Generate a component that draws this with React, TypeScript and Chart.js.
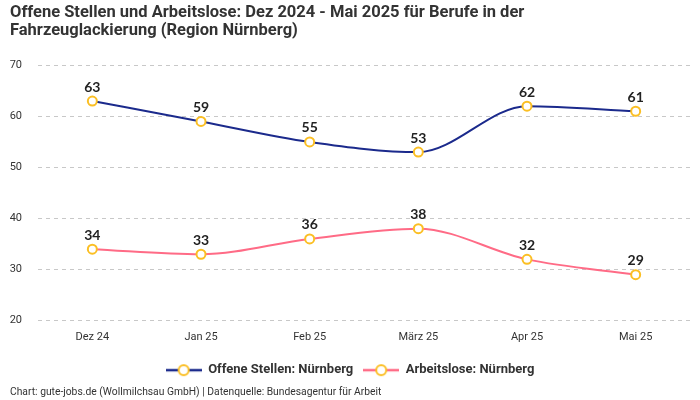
import React, { useEffect, useRef } from "react";
import { Chart, registerables } from "chart.js";

Chart.register(...registerables);

const categories = ["Dez 24", "Jan 25", "Feb 25", "März 25", "Apr 25", "Mai 25"];
const offeneStellen = [63, 59, 55, 53, 62, 61];
const arbeitslose = [34, 33, 36, 38, 32, 29];
const seriesNames = ["Offene Stellen: Nürnberg", "Arbeitslose: Nürnberg"];
const titleLines = [
  "Offene Stellen und Arbeitslose: Dez 2024 - Mai 2025 für Berufe in der",
  "Fahrzeuglackierung (Region Nürnberg)",
];
const footerText = "Chart: gute-jobs.de (Wollmilchsau GmbH) | Datenquelle: Bundesagentur für Arbeit";
const yTickMin = 20;
const yTickMax = 70;
const yTickStep = 10;

const BLUE = "#1b2a8c";
const PINK = "#ff6b86";
const YELLOW = "#fbbf24";

function legendImage(color: string): HTMLCanvasElement {
  const c = document.createElement("canvas");
  c.width = 36;
  c.height = 14;
  const ctx = c.getContext("2d")!;
  ctx.strokeStyle = color;
  ctx.lineWidth = 2.5;
  ctx.beginPath();
  ctx.moveTo(0, 7);
  ctx.lineTo(36, 7);
  ctx.stroke();
  ctx.beginPath();
  ctx.arc(18, 7, 5, 0, Math.PI * 2);
  ctx.fillStyle = "#ffffff";
  ctx.fill();
  ctx.strokeStyle = YELLOW;
  ctx.lineWidth = 2;
  ctx.stroke();
  return c;
}

const valueLabels = {
  id: "valueLabels",
  afterDatasetsDraw(chart: any) {
    const ctx = chart.ctx;
    ctx.save();
    ctx.font = "bold 14px Lato";
    ctx.fillStyle = "#222222";
    ctx.textAlign = "center";
    ctx.textBaseline = "middle";
    chart.data.datasets.forEach((ds: any, i: number) => {
      const meta = chart.getDatasetMeta(i);
      meta.data.forEach((pt: any, j: number) => {
        ctx.fillText(String(ds.data[j]), pt.x, pt.y - 14);
      });
    });
    ctx.restore();
  },
};

export default function App() {
  const ref = useRef<HTMLCanvasElement>(null);
  useEffect(() => {
    document.body.style.margin = "0";
    const imgs = [legendImage(BLUE), legendImage(PINK)];
    const chart = new Chart(ref.current!, {
      type: "line",
      data: {
        labels: categories,
        datasets: [
          {
            label: seriesNames[0],
            data: offeneStellen,
            borderColor: BLUE,
            backgroundColor: BLUE,
            borderWidth: 2,
            cubicInterpolationMode: "monotone",
            pointRadius: 4.5,
            pointBorderWidth: 2,
            pointBorderColor: YELLOW,
            pointBackgroundColor: "#ffffff",
          },
          {
            label: seriesNames[1],
            data: arbeitslose,
            borderColor: PINK,
            backgroundColor: PINK,
            borderWidth: 2,
            cubicInterpolationMode: "monotone",
            pointRadius: 4.5,
            pointBorderWidth: 2,
            pointBorderColor: YELLOW,
            pointBackgroundColor: "#ffffff",
          },
        ],
      },
      options: {
        animation: false,
        responsive: true,
        maintainAspectRatio: false,
        layout: { padding: { left: 10, right: 10, top: 2, bottom: 0 } },
        scales: {
          x: {
            offset: true,
            grid: { display: false },
            border: { display: false },
            ticks: { color: "#333333", font: { family: "Roboto", size: 11 }, padding: 2 },
            afterFit(scale: any) {
              scale.height = 33;
            },
          },
          y: {
            min: yTickMin,
            max: yTickMax,
            ticks: {
              stepSize: yTickStep,
              color: "#333333",
              font: { family: "Roboto", size: 11 },
              padding: 16,
            },
            grid: { color: "#c8c8c8", drawTicks: false, lineWidth: 1 },
            border: { display: false, dash: [4, 4] },
            afterFit(scale: any) {
              scale.width = 28;
            },
          },
        },
        plugins: {
          title: {
            display: true,
            text: titleLines,
            align: "start",
            color: "#333333",
            font: { family: "Roboto", size: 16.5, weight: "bold", lineHeight: 1.1 },
            padding: { top: 2, bottom: 25 },
          },
          subtitle: {
            display: true,
            text: footerText,
            position: "bottom",
            align: "start",
            color: "#333333",
            font: { family: "Roboto", size: 10.3 },
            padding: { top: 0, bottom: 1 },
          },
          legend: {
            position: "bottom",
            labels: {
              usePointStyle: true,
              pointStyleWidth: 36,
              boxHeight: 13,
              color: "#333333",
              font: { family: "Roboto", size: 13, weight: "bold" },
              padding: 10,
              generateLabels(c: any) {
                const base = Chart.defaults.plugins.legend.labels.generateLabels(c);
                return base.map((l: any, i: number) => ({ ...l, pointStyle: imgs[i] }));
              },
            },
          },
          tooltip: { enabled: false },
        },
      },
      plugins: [valueLabels],
    });
    return () => chart.destroy();
  }, []);
  return (
    <div style={{ width: 700, height: 400, position: "relative" }}>
      <canvas ref={ref} />
    </div>
  );
}
